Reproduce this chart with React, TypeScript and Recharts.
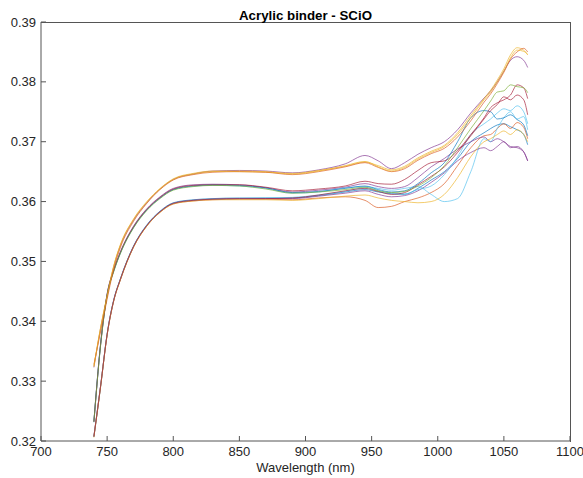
import React from 'react';
import { LineChart, Line, XAxis, YAxis } from 'recharts';

const wavelengths = [740, 745, 750, 755, 760, 770, 780, 790, 800, 815, 830, 850, 870, 890, 910, 930, 945, 955, 965, 975, 985, 995, 1005, 1015, 1025, 1035, 1040, 1045, 1050, 1055, 1060, 1065, 1068];

const xTicks = [700, 750, 800, 850, 900, 950, 1000, 1050, 1100];
const yTicks = [0.32, 0.33, 0.34, 0.35, 0.36, 0.37, 0.38, 0.39];

// top group
const t1 = [0.3324, 0.3388, 0.3442, 0.3492, 0.3527, 0.3570, 0.3599, 0.3621, 0.3637, 0.3646, 0.3650, 0.3651, 0.3650, 0.3646, 0.3651, 0.3660, 0.3667, 0.3658, 0.3651, 0.3657, 0.3671, 0.3682, 0.3692, 0.3712, 0.3740, 0.3770, 0.3783, 0.3800, 0.3818, 0.3840, 0.3853, 0.3851, 0.3846];
const t2 = [0.3328, 0.3382, 0.3437, 0.3487, 0.3523, 0.3567, 0.3597, 0.3620, 0.3636, 0.3645, 0.3649, 0.3650, 0.3649, 0.3645, 0.3650, 0.3658, 0.3665, 0.3657, 0.3650, 0.3655, 0.3669, 0.3680, 0.3689, 0.3708, 0.3735, 0.3766, 0.3780, 0.3797, 0.3816, 0.3838, 0.3850, 0.3856, 0.3850];
const t3 = [0.3323, 0.3387, 0.3441, 0.3491, 0.3526, 0.3569, 0.3598, 0.3621, 0.3637, 0.3646, 0.3651, 0.3652, 0.3651, 0.3648, 0.3653, 0.3663, 0.3677, 0.3668, 0.3655, 0.3665, 0.3679, 0.3690, 0.3700, 0.3720, 0.3748, 0.3773, 0.3785, 0.3800, 0.3818, 0.3836, 0.3842, 0.3836, 0.3824];
const t4 = [0.3325, 0.3389, 0.3443, 0.3493, 0.3528, 0.3571, 0.3600, 0.3622, 0.3638, 0.3647, 0.3651, 0.3650, 0.3649, 0.3647, 0.3652, 0.3659, 0.3666, 0.3660, 0.3653, 0.3659, 0.3673, 0.3684, 0.3694, 0.3715, 0.3744, 0.3772, 0.3786, 0.3803, 0.3822, 0.3845, 0.3857, 0.3853, 0.3845];
// middle group
const m1 = [0.3232, 0.3360, 0.3445, 0.3485, 0.3515, 0.3558, 0.3587, 0.3607, 0.3621, 0.3627, 0.3628, 0.3628, 0.3624, 0.3618, 0.3621, 0.3626, 0.3634, 0.3630, 0.3629, 0.3637, 0.3652, 0.3665, 0.3668, 0.3685, 0.3712, 0.3740, 0.3757, 0.3765, 0.3770, 0.3778, 0.3795, 0.3790, 0.3772];
const m2 = [0.3233, 0.3361, 0.3444, 0.3484, 0.3514, 0.3557, 0.3586, 0.3606, 0.3620, 0.3626, 0.3628, 0.3627, 0.3623, 0.3615, 0.3617, 0.3622, 0.3626, 0.3620, 0.3616, 0.3618, 0.3630, 0.3648, 0.3665, 0.3700, 0.3740, 0.3752, 0.3750, 0.3738, 0.3740, 0.3745, 0.3737, 0.3728, 0.3710];
const m3 = [0.3231, 0.3359, 0.3444, 0.3484, 0.3514, 0.3557, 0.3586, 0.3606, 0.3620, 0.3626, 0.3627, 0.3626, 0.3622, 0.3614, 0.3616, 0.3623, 0.3625, 0.3622, 0.3619, 0.3622, 0.3625, 0.3612, 0.3600, 0.3605, 0.3650, 0.3705, 0.3700, 0.3722, 0.3740, 0.3750, 0.3738, 0.3742, 0.3720];
const m4 = [0.3232, 0.3360, 0.3446, 0.3486, 0.3516, 0.3559, 0.3588, 0.3608, 0.3622, 0.3628, 0.3629, 0.3628, 0.3623, 0.3616, 0.3619, 0.3624, 0.3630, 0.3625, 0.3622, 0.3625, 0.3640, 0.3658, 0.3672, 0.3688, 0.3700, 0.3708, 0.3700, 0.3705, 0.3700, 0.3692, 0.3690, 0.3683, 0.3668];
const m5 = [0.3232, 0.3358, 0.3443, 0.3483, 0.3513, 0.3556, 0.3585, 0.3605, 0.3619, 0.3625, 0.3627, 0.3626, 0.3621, 0.3614, 0.3616, 0.3620, 0.3624, 0.3618, 0.3615, 0.3617, 0.3626, 0.3640, 0.3660, 0.3690, 0.3722, 0.3752, 0.3768, 0.3783, 0.3785, 0.3795, 0.3792, 0.3790, 0.3782];
// bottom group
const b1 = [0.3207, 0.3290, 0.3378, 0.3435, 0.3470, 0.3525, 0.3560, 0.3583, 0.3597, 0.3602, 0.3604, 0.3605, 0.3605, 0.3606, 0.3611, 0.3618, 0.3622, 0.3617, 0.3612, 0.3615, 0.3628, 0.3642, 0.3658, 0.3682, 0.3710, 0.3738, 0.3752, 0.3762, 0.3775, 0.3770, 0.3778, 0.3770, 0.3745];
const b2 = [0.3208, 0.3291, 0.3377, 0.3434, 0.3469, 0.3524, 0.3559, 0.3582, 0.3596, 0.3601, 0.3603, 0.3604, 0.3604, 0.3603, 0.3606, 0.3608, 0.3602, 0.3590, 0.3592, 0.3600, 0.3606, 0.3615, 0.3630, 0.3660, 0.3690, 0.3710, 0.3712, 0.3722, 0.3730, 0.3722, 0.3732, 0.3724, 0.3705];
const b3 = [0.3207, 0.3290, 0.3379, 0.3436, 0.3471, 0.3526, 0.3561, 0.3584, 0.3598, 0.3603, 0.3605, 0.3606, 0.3606, 0.3606, 0.3610, 0.3616, 0.3620, 0.3616, 0.3613, 0.3612, 0.3622, 0.3636, 0.3650, 0.3672, 0.3700, 0.3715, 0.3722, 0.3728, 0.3730, 0.3725, 0.3720, 0.3712, 0.3695];
const b4 = [0.3206, 0.3289, 0.3377, 0.3434, 0.3469, 0.3524, 0.3559, 0.3582, 0.3596, 0.3601, 0.3603, 0.3603, 0.3603, 0.3602, 0.3605, 0.3609, 0.3611, 0.3606, 0.3602, 0.3600, 0.3598, 0.3600, 0.3612, 0.3640, 0.3675, 0.3700, 0.3705, 0.3712, 0.3718, 0.3712, 0.3720, 0.3712, 0.3700];
const b5 = [0.3207, 0.3290, 0.3378, 0.3435, 0.3470, 0.3525, 0.3560, 0.3583, 0.3597, 0.3602, 0.3604, 0.3605, 0.3606, 0.3607, 0.3611, 0.3617, 0.3623, 0.3619, 0.3614, 0.3613, 0.3620, 0.3626, 0.3645, 0.3675, 0.3712, 0.3730, 0.3738, 0.3748, 0.3755, 0.3752, 0.3760, 0.3750, 0.3730];
const b6 = [0.3208, 0.3291, 0.3378, 0.3435, 0.3470, 0.3525, 0.3560, 0.3583, 0.3597, 0.3602, 0.3604, 0.3605, 0.3605, 0.3605, 0.3609, 0.3614, 0.3618, 0.3612, 0.3608, 0.3610, 0.3618, 0.3632, 0.3648, 0.3668, 0.3682, 0.3690, 0.3685, 0.3692, 0.3700, 0.3690, 0.3692, 0.3683, 0.3668];

// draw order: later series are painted on top
const seriesValues = [b3, b2, m4, m3, m2, t3, t4, b6, b5, b4, m1, b1, m5, t2, t1];
const seriesColors = ['#0072BD', '#D95319', '#7E2F8E', '#4DBEEE', '#0072BD', '#7E2F8E', '#EDB120', '#7E2F8E', '#4DBEEE', '#EDB120', '#A2142F', '#A2142F', '#77AC30', '#D95319', '#EDB120'];

const data = wavelengths.map((w, i) => {
  const row: Record<string, number> = { w };
  seriesValues.forEach((s, k) => {
    row['s' + k] = s[i];
  });
  return row;
});

const FONT = '"Liberation Sans", Arial, Helvetica, sans-serif';
const AXIS = '#555555';
const TXT = '#262626';

export default function App() {
  return (
    <div style={{ position: 'absolute', left: 0, top: 0, width: 583, height: 478, background: '#fff', fontFamily: FONT }}>
      <LineChart width={583} height={478} data={data} margin={{ top: 22, right: 13, left: 0, bottom: 0 }}>
        <XAxis
          dataKey="w"
          type="number"
          domain={[700, 1100]}
          ticks={xTicks}
          interval={0}
          height={37}
          stroke={AXIS}
          tickSize={-5}
          tickMargin={11}
          tick={{ fill: TXT, fontSize: 13, fontFamily: FONT }}
          label={{ value: 'Wavelength (nm)', position: 'insideBottom', offset: 6, fill: TXT, fontSize: 13, fontFamily: FONT }}
        />
        <YAxis
          type="number"
          domain={[0.32, 0.39]}
          ticks={yTicks}
          interval={0}
          width={41}
          stroke={AXIS}
          tickSize={-5}
          tickMargin={10}
          tickFormatter={(v: number) => v.toFixed(2)}
          tick={{ fill: TXT, fontSize: 13, fontFamily: FONT }}
        />
        {seriesValues.map((_, k) => (
          <Line
            key={k}
            type="monotone"
            dataKey={'s' + k}
            stroke={seriesColors[k]}
            strokeOpacity={0.65}
            strokeWidth={1}
            dot={false}
            activeDot={false}
            isAnimationActive={false}
          />
        ))}
      </LineChart>
      <div
        style={{
          position: 'absolute',
          left: 41,
          top: 22,
          width: 530,
          height: 420,
          boxSizing: 'border-box',
          borderTop: `1px solid ${AXIS}`,
          borderRight: `1px solid ${AXIS}`,
          pointerEvents: 'none',
        }}
      />
      <svg width={583} height={30} style={{ position: 'absolute', left: 0, top: 0 }}>
        <text x={305.5} y={20} textAnchor="middle" fontFamily={FONT} fontSize={13.3} fontWeight="bold" fill="#000">
          Acrylic binder - SCiO
        </text>
      </svg>
    </div>
  );
}
